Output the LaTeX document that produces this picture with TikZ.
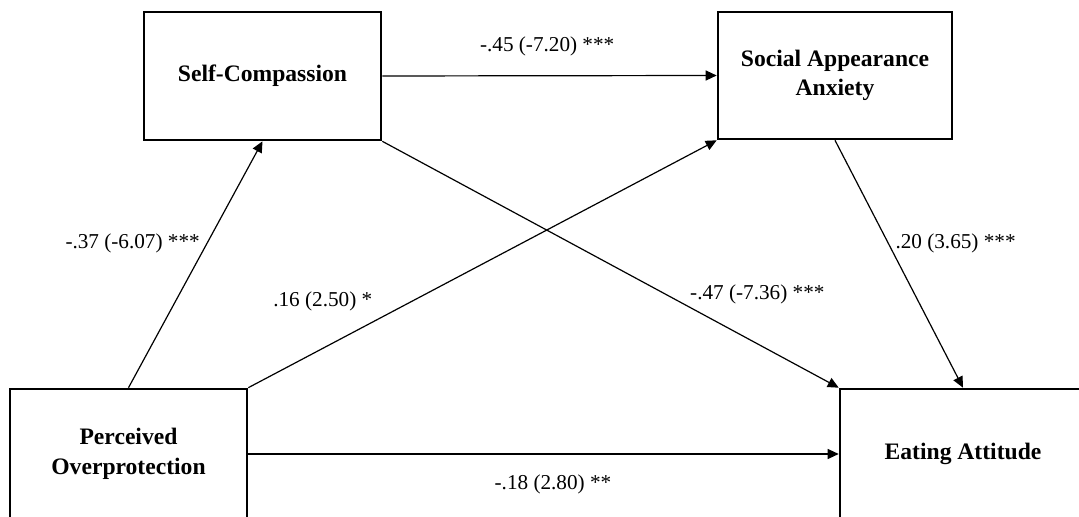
\documentclass[tikz,border=0pt]{standalone}
\usepackage{fontspec}
\setmainfont{Liberation Serif}
\usetikzlibrary{arrows.meta}
\tikzset{varbox/.style={
          draw,
          rectangle,
          line width=1.3pt,
          align=center,
          font=\fontsize{11.8}{14.8}\selectfont\bfseries
     }}
\tikzset{coef/.style={
          font=\fontsize{10.6}{12}\selectfont
     }}
\tikzstyle{arrow} = [line width=0.6pt,-{Triangle[length=5.5pt,width=5pt]}]

\begin{document}
\begin{tikzpicture}[x=0.5pt,y=-0.5pt]
\useasboundingbox (0,0) rectangle (1079,517);
\node (comp) [varbox, minimum width=118.5pt, minimum height=64pt] at (262.5,76) {Self-Compassion};
\node (anx) [varbox, minimum width=117pt, minimum height=63.5pt] at (835,75.5) {Social Appearance\\Anxiety};
\node (over) [varbox, minimum width=118.5pt, minimum height=65pt] at (128.5,454) {Perceived\\Overprotection};
\node (eat) [varbox, minimum width=123pt, minimum height=65pt] at (963,454) {Eating Attitude};

\draw [arrow] (comp.east) -- (anx.west) node[coef, above=6pt, pos=0.493] (c45) {-.45 (-7.20) ***};
\draw [arrow] (over.north) -- (comp.south) node[coef, anchor=east, pos=0.586] (c37) {-.37 (-6.07) ***};
\draw [arrow] (over.north east) -- (anx.south west) node[coef, anchor=south east, pos=0.3, inner sep=1pt, xshift=-7pt] (c16) {.16 (2.50) *};
\draw [arrow] (comp.south east) -- (eat.north west) node[coef, anchor=south west, pos=0.669, inner sep=1pt] (c47) {-.47 (-7.36) ***};
\draw [arrow] (anx.south) -- (eat.north) node[coef, anchor=west, pos=0.416] (c20) {.20 (3.65) ***};
\draw [arrow] (over.east) -- (eat.west) node[coef, below=7pt, pos=0.516] (c18) {-.18 (2.80) **};
\end{tikzpicture}
\end{document}
